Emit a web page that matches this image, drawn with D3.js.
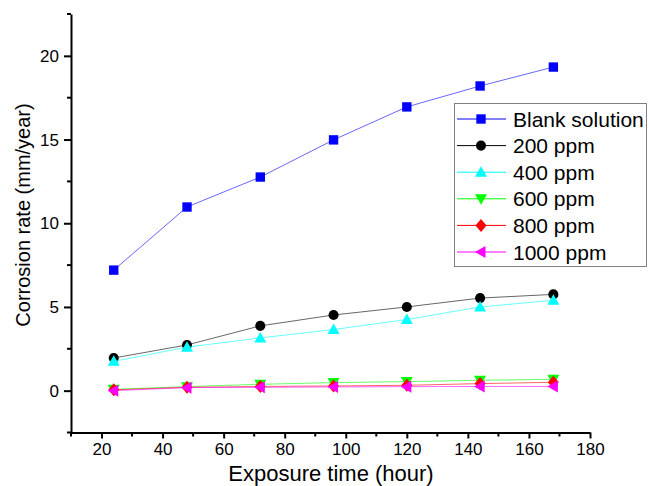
<!DOCTYPE html>
<html>
<head>
<meta charset="utf-8">
<script src="https://cdn.jsdelivr.net/npm/d3@7"></script>
<style>
  body { margin: 0; background: #fff; }
  svg { font-family: "Liberation Sans", Arial, sans-serif; }
</style>
</head>
<body>
<div id="chart"></div>
<script>
// exposure times (hour)
var hours = [24, 48, 72, 96, 120, 144, 168]

// corrosion rate (mm/year)
var blank   = [7.2, 10.97, 12.76, 14.98, 16.95, 18.2, 19.33]
var ppm200  = [1.95, 2.73, 3.87, 4.52, 5.0, 5.53, 5.75]
var ppm400  = [1.75, 2.6, 3.15, 3.65, 4.25, 5.0, 5.4]
var ppm600  = [0.08, 0.24, 0.38, 0.48, 0.54, 0.62, 0.68]
var ppm800  = [0.05, 0.2, 0.25, 0.28, 0.32, 0.42, 0.5]
var ppm1000 = [0.0, 0.18, 0.2, 0.22, 0.24, 0.25, 0.25]

var seriesNames = ['Blank solution', '200 ppm', '400 ppm', '600 ppm', '800 ppm', '1000 ppm']
var seriesValues = [blank, ppm200, ppm400, ppm600, ppm800, ppm1000]
var seriesColors = ['#0000ff', '#000000', '#00ffff', '#00ff00', '#ff0000', '#ff00ff']
var seriesSymbols = ['square', 'circle', 'up', 'down', 'diamond', 'left']

var xTicks = [20, 40, 60, 80, 100, 120, 140, 160, 180]
var yTicks = [0, 5, 10, 15, 20]

var width = 649, height = 486
var svg = d3.select('#chart').append('svg').attr('width', width).attr('height', height)

var x = d3.scaleLinear().domain([10, 180]).range([71, 590])
var y = d3.scaleLinear().domain([-2.5, 22.5]).range([432.5, 14])

// markers
function symbolPath(kind) {
  if (kind == 'square') return d3.symbol(d3.symbolSquare, 88)()
  if (kind == 'circle') return d3.symbol(d3.symbolCircle, 80)()
  if (kind == 'diamond') return 'M0,-6.5L5.5,0L0,6.5L-5.5,0Z'
  if (kind == 'up') return 'M0,-6L6,4.5L-6,4.5Z'
  if (kind == 'down') return 'M0,6L6,-4.5L-6,-4.5Z'
  if (kind == 'left') return 'M-6,0L4.5,-6L4.5,6Z'
}

var line = d3.line().x(function(d){ return x(d.h) }).y(function(d){ return y(d.v) })

seriesValues.forEach(function(vals, i){
  var pts = hours.map(function(h, j){ return {h: h, v: vals[j]} })
  var g = svg.append('g')
  g.append('path')
    .attr('d', line(pts))
    .attr('fill', 'none')
    .attr('stroke', seriesColors[i])
    .attr('stroke-width', 1)
    .attr('stroke-opacity', 0.6)
  g.selectAll('path.m').data(pts).enter().append('path')
    .attr('class', 'm')
    .attr('d', symbolPath(seriesSymbols[i]))
    .attr('transform', function(d){ return 'translate(' + x(d.h) + ',' + y(d.v) + ')' })
    .attr('fill', seriesColors[i])
})

// axes
var xAxis = d3.axisBottom(x).tickValues(xTicks).tickSize(6).tickPadding(4).tickSizeOuter(0)
var yAxis = d3.axisLeft(y).tickValues(yTicks).tickSize(7).tickPadding(5).tickSizeOuter(0)

var gx = svg.append('g').attr('transform', 'translate(0,' + y(-2.5) + ')').call(xAxis)
var gy = svg.append('g').attr('transform', 'translate(' + x(10) + ',0)').call(yAxis)

// minor ticks
gx.selectAll('line.minor').data(d3.range(10, 180, 20)).enter().append('line')
  .attr('x1', function(d){ return x(d) }).attr('x2', function(d){ return x(d) })
  .attr('y1', 0).attr('y2', 4).attr('stroke', '#000').attr('stroke-width', 2)
gy.selectAll('line.minor').data(d3.range(-2.5, 23, 5)).enter().append('line')
  .attr('y1', function(d){ return y(d) }).attr('y2', function(d){ return y(d) })
  .attr('x1', 0).attr('x2', -4).attr('stroke', '#000').attr('stroke-width', 2)

;[gx, gy].forEach(function(g){
  g.select('.domain').attr('stroke-width', 2)
  g.selectAll('.tick line').attr('stroke-width', 2)
  g.selectAll('.tick text').attr('font-size', 17).attr('fill', '#000')
    .style('font-family', '"Liberation Sans", Arial, sans-serif')
})

// axis titles
svg.append('text')
  .attr('x', 331).attr('y', 481)
  .attr('text-anchor', 'middle')
  .attr('font-size', 22)
  .text('Exposure time (hour)')

svg.append('text')
  .attr('transform', 'translate(30,215) rotate(-90)')
  .attr('text-anchor', 'middle')
  .attr('font-size', 20)
  .text('Corrosion rate (mm/year)')

// legend
var lg = svg.append('g')
lg.append('rect')
  .attr('x', 454.5).attr('y', 103.5).attr('width', 192).attr('height', 163)
  .attr('fill', '#fff').attr('stroke', '#808080').attr('stroke-width', 1)

seriesNames.forEach(function(name, i){
  var ry = 119 + i * 26.6
  lg.append('line')
    .attr('x1', 457).attr('x2', 506).attr('y1', ry).attr('y2', ry)
    .attr('stroke', seriesColors[i]).attr('stroke-width', 1)
  lg.append('path')
    .attr('d', symbolPath(seriesSymbols[i]))
    .attr('transform', 'translate(481,' + ry + ')')
    .attr('fill', seriesColors[i])
  lg.append('text')
    .attr('x', 513).attr('y', ry + 7.5)
    .attr('font-size', 21)
    .text(name)
})
</script>
</body>
</html>
